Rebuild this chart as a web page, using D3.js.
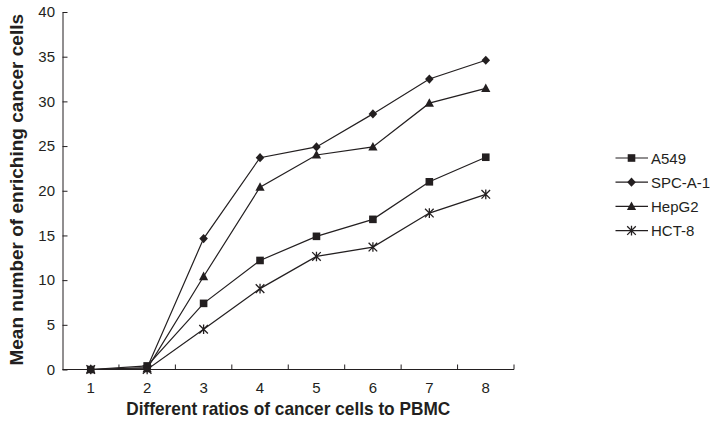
<!DOCTYPE html>
<html>
<head>
<meta charset="utf-8">
<script src="https://cdn.jsdelivr.net/npm/d3@7"></script>
<style>
  html, body { margin: 0; padding: 0; background: #fff; }
  svg { display: block; }
  text { font-family: "Liberation Sans", Arial, sans-serif; fill: #231f20; }
</style>
</head>
<body>
<svg id="chart" width="717" height="427"></svg>
<script>
const categories = ["1", "2", "3", "4", "5", "6", "7", "8"];
const seriesNames = ["A549", "SPC-A-1", "HepG2", "HCT-8"];
const seriesSymbols = ["square", "diamond", "triangle", "asterisk"];
const a549 = [0, 0.4, 7.4, 12.2, 14.9, 16.8, 21.0, 23.75];
const spca1 = [0, 0.2, 14.65, 23.7, 24.9, 28.6, 32.5, 34.6];
const hepg2 = [0, 0.1, 10.4, 20.4, 24.0, 24.9, 29.8, 31.45];
const hct8 = [0, 0, 4.5, 9.05, 12.65, 13.7, 17.5, 19.6];
const yTicks = [0, 5, 10, 15, 20, 25, 30, 35, 40];
const xTitle = "Different ratios of cancer cells to PBMC";
const yTitle = "Mean number of enriching cancer cells";

const seriesValues = [a549, spca1, hepg2, hct8];
const ink = "#231f20";

const svg = d3.select("#chart");
const mLeft = 62.5, mRight = 514, mTop = 12, mBottom = 369.5;

const x = d3.scaleBand().domain(categories).range([mLeft, mRight]).padding(0);
const y = d3.scaleLinear().domain([0, 40]).range([mBottom, mTop]);

// Y axis
const yAxis = svg.append("g").attr("transform", `translate(${mLeft},0)`)
  .call(d3.axisLeft(y).tickValues(yTicks).tickSizeInner(-5).tickSizeOuter(0).tickPadding(7.5));
yAxis.select(".domain").attr("stroke", ink);
yAxis.selectAll(".tick line").attr("stroke", ink);
yAxis.selectAll(".tick text").attr("font-size", 15).attr("fill", ink)
  .attr("font-family", "Liberation Sans, Arial, sans-serif");

// X axis with ticks at band boundaries, pointing inward
const xAxisG = svg.append("g").attr("transform", `translate(0,${mBottom})`);
xAxisG.append("line").attr("x1", mLeft).attr("x2", mRight).attr("y1", 0).attr("y2", 0)
  .attr("stroke", ink).attr("stroke-width", 1);
const boundaries = categories.map(c => x(c) + x.bandwidth());
xAxisG.selectAll("line.bt").data(boundaries).join("line").attr("class", "bt")
  .attr("x1", d => d).attr("x2", d => d).attr("y1", 0).attr("y2", -5)
  .attr("stroke", ink);
xAxisG.selectAll("text.xl").data(categories).join("text").attr("class", "xl")
  .attr("x", d => x(d) + x.bandwidth() / 2).attr("y", 23)
  .attr("text-anchor", "middle").attr("font-size", 15).text(d => d);

// Titles
svg.append("text").attr("x", (mLeft + mRight) / 2).attr("y", 415)
  .attr("text-anchor", "middle").attr("font-size", 18.5).attr("font-weight", "bold")
  .attr("textLength", 324).attr("lengthAdjust", "spacingAndGlyphs").text(xTitle);
svg.append("text").attr("transform", `translate(22.5,${(mTop + mBottom) / 2 - 1}) rotate(-90)`)
  .attr("text-anchor", "middle").attr("font-size", 19).attr("font-weight", "bold").text(yTitle);

// Marker drawing
function drawMarker(g, type, cx, cy) {
  if (type === "square") {
    g.append("rect").attr("x", cx - 3.8).attr("y", cy - 3.8).attr("width", 7.6).attr("height", 7.6).attr("fill", ink);
  } else if (type === "diamond") {
    g.append("path").attr("d", `M${cx},${cy - 4.6}L${cx + 4.3},${cy}L${cx},${cy + 4.6}L${cx - 4.3},${cy}Z`).attr("fill", ink);
  } else if (type === "triangle") {
    g.append("path").attr("d", `M${cx},${cy - 5}L${cx + 4.6},${cy + 3.6}L${cx - 4.6},${cy + 3.6}Z`).attr("fill", ink);
  } else if (type === "asterisk") {
    const r = 4.3;
    g.append("path").attr("d",
      `M${cx - r},${cy - r}L${cx + r},${cy + r}M${cx - r},${cy + r}L${cx + r},${cy - r}M${cx},${cy - r - 0.5}L${cx},${cy + r + 0.5}`)
      .attr("stroke", ink).attr("stroke-width", 1.3).attr("fill", "none");
  }
}

const line = d3.line().x((d, i) => x(categories[i]) + x.bandwidth() / 2).y(d => y(d));
const plot = svg.append("g");
seriesValues.forEach((vals) => {
  plot.append("path").datum(vals).attr("d", line).attr("fill", "none")
    .attr("stroke", ink).attr("stroke-width", 1.2);
});
seriesValues.forEach((vals, si) => {
  const g = plot.append("g");
  vals.forEach((v, i) => drawMarker(g, seriesSymbols[si], x(categories[i]) + x.bandwidth() / 2, y(v)));
});

// Legend
const legend = svg.append("g");
const ly0 = 158, lstep = 24.2;
seriesNames.forEach((name, i) => {
  const yy = ly0 + i * lstep;
  legend.append("line").attr("x1", 615.5).attr("x2", 648).attr("y1", yy).attr("y2", yy)
    .attr("stroke", ink).attr("stroke-width", 1.2);
  drawMarker(legend, seriesSymbols[i], 631.5, yy);
  legend.append("text").attr("x", 651).attr("y", yy + 5.5).attr("font-size", 15).text(name);
});
</script>
</body>
</html>
